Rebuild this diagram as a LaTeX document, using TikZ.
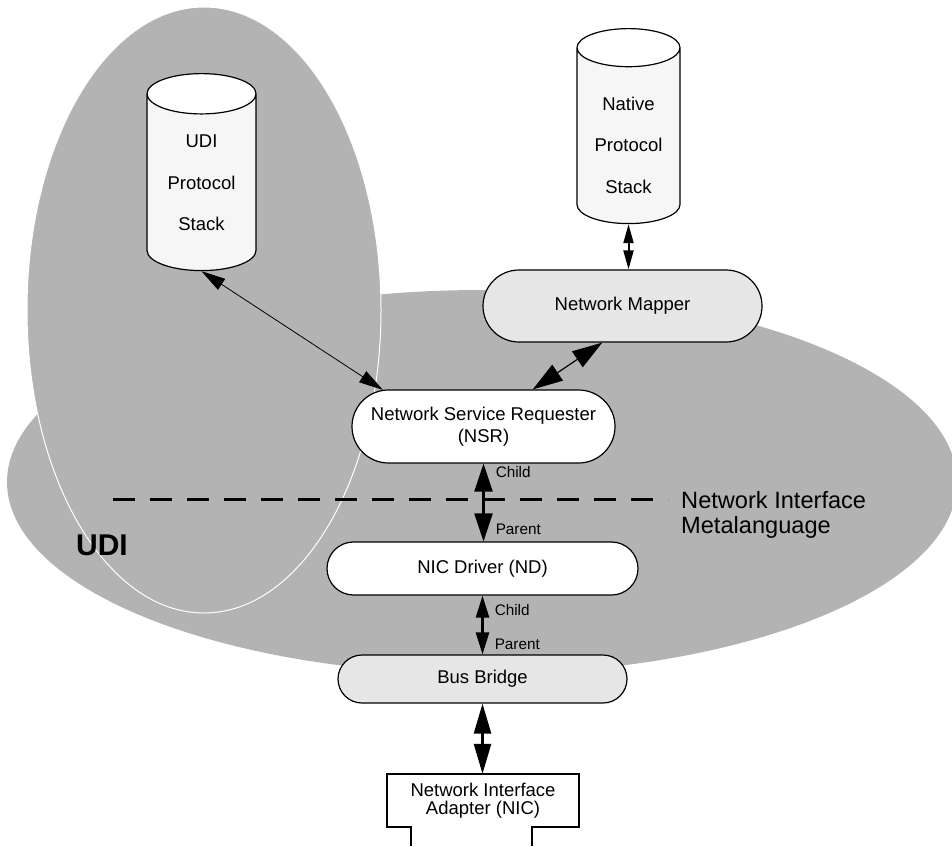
\documentclass[tikz,border=0pt]{standalone}
\usepackage{fontspec}
\setmainfont{Liberation Sans}
\usetikzlibrary{arrows.meta,shapes.geometric,shapes.misc}
\definecolor{udigray}{RGB}{179,179,179}
\definecolor{boxgray}{RGB}{230,230,230}
\definecolor{stackgray}{RGB}{246,246,246}
\tikzset{
  pill/.style={rounded rectangle, draw, line width=1.2pt, font=\fontsize{18.5}{21.5}\selectfont, align=center, inner sep=0pt},
  stack/.style={cylinder, shape border rotate=90, draw, line width=1.2pt, aspect=0.37, cylinder uses custom fill, cylinder body fill=stackgray, cylinder end fill=white, inner sep=0pt, anchor=north},
  stacktext/.style={font=\fontsize{18.5}{21.5}\selectfont, align=center, anchor=center, inner sep=0pt},
  tag/.style={font=\fontsize{15.3}{18}\selectfont, anchor=west, inner sep=0pt, xshift=11pt},
  dbl/.style 2 args={{Triangle[length=#1,width=#2]}-{Triangle[length=#1,width=#2]}},
}
\begin{document}
\begin{tikzpicture}[x=1pt, y=-1pt]
\useasboundingbox (0,0) rectangle (952,846);
% UDI regions
\fill[udigray] (482,482) ellipse [x radius=475, y radius=192];
\filldraw[udigray, draw=white, line width=1pt] (204,310) ellipse [x radius=177, y radius=303];
\node[font=\fontsize{30}{30}\selectfont\bfseries, inner sep=0pt] (udi) at (102,545) {UDI};

% metalanguage boundary
\draw[line width=3pt, dash pattern=on 22pt off 15pt] (113,499) -- (668,499);
\node[font=\fontsize{23.6}{25}\selectfont, align=left, anchor=west, inner sep=0pt] (nim) at (681,515) {Network Interface\\Metalanguage};

\node[stack, minimum height=197pt, label={[stacktext, yshift=-110pt]north:{UDI\\[20pt]Protocol\\[20pt]Stack}}] (udistack) at (201.5,73) {\rule{109pt}{0pt}};
\node[stack, minimum height=195pt, label={[stacktext, yshift=-117pt]north:{Native\\[20pt]Protocol\\[20pt]Stack}}] (native) at (628.5,28) {\rule{103pt}{0pt}};

\node[pill, fill=boxgray, minimum width=279pt, minimum height=72pt] (mapper) at (622.5,306) {Network Mapper};
\node[pill, fill=white, minimum width=263pt, minimum height=73pt] (nsr) at (483.5,426.5) {Network Service Requester\\(NSR)};
\node[pill, fill=white, minimum width=311pt, minimum height=53pt] (nd) at (482.5,568.5) {NIC Driver (ND)};
\node[pill, fill=boxgray, minimum width=289pt, minimum height=48pt] (bus) at (482.5,679) {Bus Bridge};

% adapter card
\node[font=\fontsize{18.5}{18}\selectfont, align=center, minimum width=192pt, minimum height=53pt, inner sep=0pt] (nic) at (483,800.5) {Network Interface\\Adapter (NIC)};
\draw[line width=2pt] ([xshift=24pt]nic.south west) ++(0,19) -- ([xshift=24pt]nic.south west) -- (nic.south west) -- (nic.north west) -- (nic.north east) -- (nic.south east) -- ([xshift=-47pt]nic.south east) -- ++(0,19);

\draw[dbl={24pt}{13pt}, line width=0.8pt] (udistack.south) -- (nsr.160);
\draw[dbl={19pt}{10pt}, line width=2pt] (native.south) -- (native.south |- mapper.north);
\draw[dbl={30pt}{19pt}, line width=1.2pt] (mapper.241) -- (nsr.37);
\draw[dbl={28pt}{18pt}, line width=2.5pt] (nsr.south) -- (nsr.south |- nd.north) node[tag, pos=0.11]{Child} node[tag, pos=0.85]{Parent};
\draw[dbl={22pt}{13pt}, line width=2.5pt] (nd.south) -- (nd.south |- bus.north) node[tag, pos=0.25]{Child} node[tag, pos=0.83]{Parent};
\draw[dbl={30pt}{17pt}, line width=2.5pt] (bus.south) -- (bus.south |- nic.north);
\end{tikzpicture}
\end{document}
